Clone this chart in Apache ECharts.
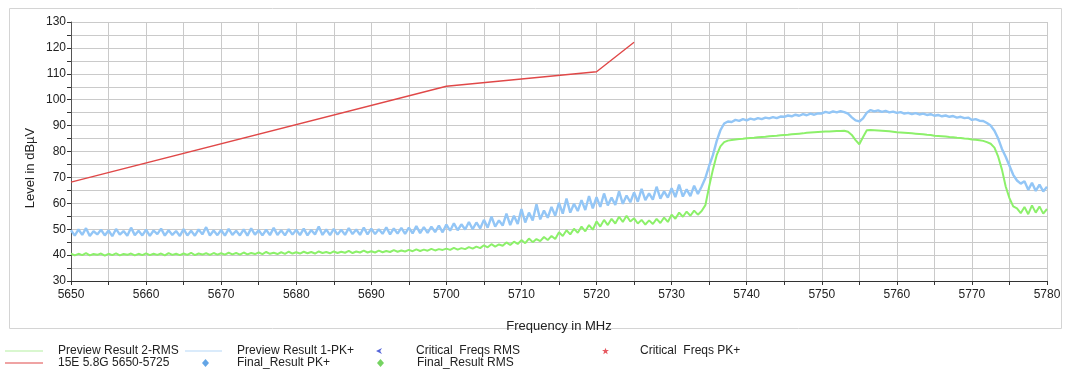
<!DOCTYPE html>
<html>
<head>
<meta charset="utf-8">
<script src="https://cdn.jsdelivr.net/npm/echarts@6/dist/echarts.min.js"></script>
<style>
html,body{margin:0;padding:0;background:#fff;}
#chart{width:1065px;height:372px;}
</style>
</head>
<body>
<div id="chart"></div>
<script>
// ---- data ----
const FREQ_START = 5650;   // MHz, first sample of the traces
const FREQ_STEP = 0.5;     // MHz between samples

// Preview Result 1-PK+ (blue), 5650 .. 5780 MHz
const pkTrace = [
  49.6,47.5,49.9,47.8,50.4,47.4,49.2,48.0,49.8,47.6,
  49.5,47.3,50.1,47.9,49.3,47.5,50.6,47.7,49.4,47.6,
  49.8,47.4,49.5,48.1,50.2,47.5,49.6,47.8,49.3,47.4,
  50.0,47.6,49.4,47.5,49.9,48.0,50.8,47.6,49.5,47.7,
  49.7,47.5,50.1,47.8,49.4,47.6,49.9,47.5,50.3,47.9,
  49.6,47.6,49.8,47.7,50.5,47.8,49.6,47.6,50.0,47.9,
  49.8,47.7,50.2,47.6,49.7,48.0,51.0,47.8,49.9,47.7,
  50.1,47.9,49.8,47.8,50.4,48.1,49.9,47.8,50.6,48.0,
  50.2,48.1,50.0,48.2,50.7,48.0,50.3,48.3,50.5,48.2,
  50.6,48.4,51.2,48.5,50.8,48.6,51.0,48.9,51.4,48.8,
  51.8,49.4,52.3,49.6,51.9,49.9,52.8,50.0,52.6,50.3,
  53.6,50.6,54.9,51.0,53.4,51.4,56.0,51.6,55.2,52.0,
  57.8,52.6,56.4,53.4,59.6,53.8,57.2,54.4,58.6,55.2,
  60.2,56.0,61.8,56.4,59.8,57.0,61.2,57.4,62.8,58.0,
  62.4,58.6,63.8,59.2,62.2,59.4,64.6,59.8,63.0,60.4,
  64.2,60.6,65.6,61.2,63.8,61.4,66.4,61.8,64.6,62.2,
  65.8,62.4,67.2,62.6,65.4,62.8,66.8,63.6,66.5,69.8,
  74.5,78.6,84.0,88.2,90.8,91.6,91.4,92.2,91.8,92.5,
  92.0,92.7,92.3,92.9,92.5,93.1,92.8,93.3,92.9,93.5,
  93.4,93.9,93.6,94.2,93.8,94.4,94.0,94.6,94.2,94.7,
  94.7,95.3,94.9,95.5,95.1,95.6,95.2,94.6,93.2,92.0,
  91.6,92.8,95.0,96.0,95.5,95.9,95.3,95.7,95.1,95.4,
  94.9,95.2,94.6,94.9,94.4,94.8,94.3,94.6,94.1,94.4,
  93.8,94.1,93.6,93.9,93.4,93.7,93.1,93.4,92.9,93.1,
  92.2,92.5,91.9,91.8,91.0,90.0,88.0,85.0,81.0,78.0,
  74.5,71.0,68.8,67.6,68.5,65.2,67.9,64.8,67.2,64.6,
  66.4
];

// Preview Result 2-RMS (green), 5650 .. 5780 MHz
const rmsTrace = [
  40.6,39.9,40.5,40.0,40.8,39.9,40.4,40.1,40.6,39.8,
  40.5,40.0,40.7,39.9,40.4,40.1,40.6,39.9,40.5,40.0,
  40.7,40.0,40.5,40.1,40.6,39.9,40.8,40.1,40.5,40.0,
  40.6,40.1,40.9,40.0,40.6,40.2,40.7,40.1,40.8,40.2,
  40.7,40.2,40.9,40.3,40.8,40.2,41.0,40.3,40.8,40.4,
  41.0,40.4,41.2,40.5,40.9,40.4,41.1,40.5,41.3,40.6,
  41.1,40.6,41.3,40.7,41.2,40.6,41.4,40.8,41.2,40.7,
  41.4,40.8,41.3,40.9,41.6,40.8,41.4,41.0,41.7,41.0,
  41.5,41.0,41.7,41.1,41.6,41.2,41.9,41.3,41.8,41.4,
  42.0,41.5,42.2,41.6,42.1,41.7,42.4,41.8,42.3,42.0,
  42.5,42.0,42.8,42.1,42.7,42.3,43.1,42.5,43.3,42.7,
  43.8,43.0,44.2,43.3,44.1,43.6,44.9,43.9,45.2,44.3,
  45.8,44.6,46.4,45.0,46.2,45.4,47.0,45.8,47.4,46.2,
  48.8,47.4,49.6,48.0,50.2,48.6,51.0,49.2,51.6,49.8,
  53.0,51.0,53.6,51.6,54.0,52.2,54.8,52.8,55.2,53.0,
  54.2,52.2,53.6,51.8,53.4,52.0,54.0,52.4,54.5,52.8,
  55.6,54.0,56.4,54.8,56.8,55.2,57.2,55.6,57.0,59.3,
  66.5,73.0,78.6,82.0,83.6,84.2,84.4,84.6,84.8,84.9,
  85.1,85.2,85.3,85.5,85.6,85.7,85.9,86.0,86.1,86.3,
  86.4,86.5,86.7,86.8,86.9,87.0,87.2,87.3,87.4,87.5,
  87.6,87.7,87.7,87.8,87.9,87.9,88.0,87.6,86.4,84.4,
  82.8,85.6,88.2,88.3,88.2,88.1,88.0,87.9,87.8,87.6,
  87.4,87.3,87.2,87.1,87.0,86.9,86.8,86.7,86.5,86.4,
  86.1,86.0,85.9,85.8,85.6,85.5,85.3,85.2,85.0,84.9,
  84.6,84.5,84.3,84.1,83.6,83.0,81.5,78.0,73.0,66.5,
  62.0,58.8,58.0,56.2,58.6,55.8,59.2,56.4,58.8,56.0,
  57.8
];

// 15E 5.8G 5650-5725 limit line (frequency MHz, level dBµV)
const limitFreqs = [5650, 5700, 5720, 5725];
const limitLevels = [68.2, 105.2, 110.8, 122.2];

// axes
const xMin = 5650, xMax = 5780, xInterval = 10;
const yMin = 30, yMax = 130, yInterval = 10;

// series names
const names = {
  rms: 'Preview Result 2-RMS',
  pk: 'Preview Result 1-PK+',
  limit: '15E 5.8G 5650-5725',
  critRms: 'Critical  Freqs RMS',
  critPk: 'Critical  Freqs PK+',
  finalPk: 'Final_Result PK+',
  finalRms: 'Final_Result RMS'
};

// ---- build ----
const toPairs = arr => arr.map((v, i) => [FREQ_START + i * FREQ_STEP, v]);
const limitData = limitFreqs.map((f, i) => [f, limitLevels[i]]);

const FONT = '"Liberation Sans", Arial, sans-serif';
const GREEN = '#8cf06a';
const BLUE = '#93c6f6';
const RED = '#e04848';

function legendItem(name, left, top, w, h, gap, icon, color) {
  const o = {
    data: [name],
    left: left, top: top,
    padding: 0,
    itemWidth: w, itemHeight: h,
    selectedMode: false,
    textStyle: {fontFamily: FONT, fontSize: 12, color: '#222', lineHeight: 14, padding: [0, 0, 0, gap]}
  };
  if (icon) o.icon = icon;
  if (color) o.itemStyle = {color: color, borderWidth: 0};
  return o;
}

const ARROW = 'path://M0,5L10,0L7,5L10,10Z';
const STAR = 'path://M5,0L6.2,3.4L10,3.4L7,5.6L8.1,9.5L5,7.2L1.9,9.5L3,5.6L0,3.4L3.8,3.4Z';
const BAR = 'path://M0,0L40,0L40,1L0,1Z';

const option = {
  animation: false,
  backgroundColor: '#fff',
  textStyle: {fontFamily: FONT},
  grid: {left: 71, right: 18, top: 22, bottom: 91, containLabel: false},
  graphic: [
    {type: 'rect', left: 7, top: 6, shape: {x: 0, y: 0, width: 1052, height: 320},
     style: {fill: 'none', stroke: '#d4d4d4', lineWidth: 1}, z: -1},
    {type: 'text', x: 30, y: 168, rotation: Math.PI / 2,
     style: {text: 'Level in dBµV', font: '13px "Liberation Sans", Arial, sans-serif',
             fill: '#222', align: 'center', verticalAlign: 'middle'}}
  ],
  legend: [
    legendItem(names.rms, 5, 344, 38, 1.2, 10, BAR, '#b4f0a0'),
    legendItem(names.pk, 185, 344, 37, 1.2, 10, BAR, '#b6d8f8'),
    legendItem(names.critRms, 376, 344, 8, 6, 28, ARROW),
    legendItem(names.critPk, 602, 344, 7, 7, 26, STAR),
    legendItem(names.limit, 5, 356, 38, 1.6, 10, BAR, RED),
    legendItem(names.finalPk, 202, 356, 7, 8, 23, 'diamond'),
    legendItem(names.finalRms, 377, 356, 7, 8, 28, 'diamond')
  ],
  xAxis: {
    type: 'value', min: xMin, max: xMax, interval: xInterval,
    name: 'Frequency in MHz', nameLocation: 'middle', nameGap: 39,
    nameTextStyle: {fontFamily: FONT, fontSize: 13, color: '#222'},
    axisLine: {show: true, onZero: false, lineStyle: {color: '#333', width: 1}},
    axisTick: {show: true, inside: false, length: 4, lineStyle: {color: '#333'}},
    minorTick: {show: true, splitNumber: 2, length: 4, lineStyle: {color: '#333'}},
    axisLabel: {fontFamily: FONT, fontSize: 12, color: '#222', margin: 8,
                formatter: v => String(v)},
    splitLine: {show: true, lineStyle: {color: '#cacaca', width: 1}},
    minorSplitLine: {show: true, lineStyle: {color: '#cacaca', width: 1}}
  },
  yAxis: {
    type: 'value', min: yMin, max: yMax, interval: yInterval,
    axisLine: {show: true, lineStyle: {color: '#555', width: 1}},
    axisTick: {show: true, inside: false, length: 4, lineStyle: {color: '#333'}},
    minorTick: {show: true, splitNumber: 2, length: 4, lineStyle: {color: '#333'}},
    axisLabel: {fontFamily: FONT, fontSize: 12, color: '#222', margin: 5},
    splitLine: {show: true, lineStyle: {color: '#cacaca', width: 1}},
    minorSplitLine: {show: true, lineStyle: {color: '#cacaca', width: 1}}
  },
  series: [
    {name: names.rms, type: 'line', data: toPairs(rmsTrace), symbol: 'none', showSymbol: false,
     sampling: false, lineStyle: {color: GREEN, width: 2}, itemStyle: {color: GREEN}, z: 3},
    {name: names.pk, type: 'line', data: toPairs(pkTrace), symbol: 'none', showSymbol: false,
     sampling: false, lineStyle: {color: BLUE, width: 2.4}, itemStyle: {color: BLUE}, z: 2},
    {name: names.limit, type: 'line', data: limitData, symbol: 'none', showSymbol: false,
     lineStyle: {color: RED, width: 1.4}, itemStyle: {color: RED}, z: 4},
    {name: names.critRms, type: 'scatter', data: [], symbol: ARROW, itemStyle: {color: '#2a3fd0'}},
    {name: names.critPk, type: 'scatter', data: [], symbol: STAR, itemStyle: {color: '#e0303a'}},
    {name: names.finalPk, type: 'scatter', data: [], symbol: 'diamond', itemStyle: {color: '#3c8fe0'}},
    {name: names.finalRms, type: 'scatter', data: [], symbol: 'diamond', itemStyle: {color: '#52c83a'}}
  ]
};

const chart = echarts.init(document.getElementById('chart'), null, {renderer: 'canvas'});
chart.setOption(option);
</script>
</body>
</html>
